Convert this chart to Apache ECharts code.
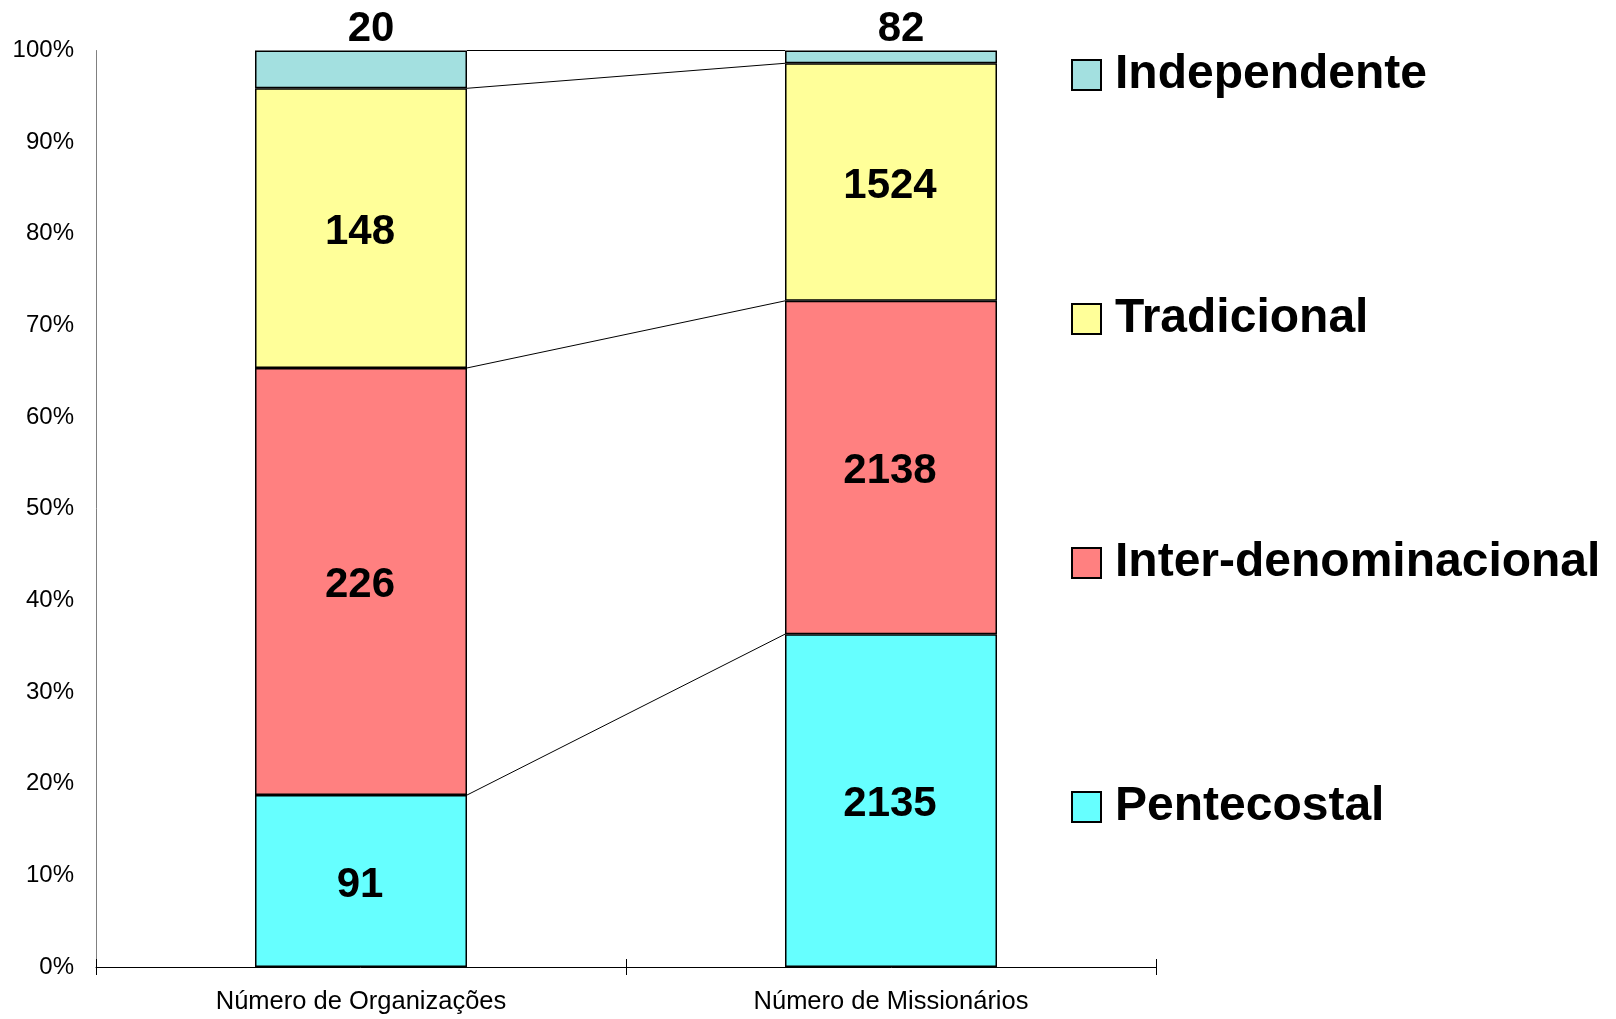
<!DOCTYPE html>
<html>
<head>
<meta charset="utf-8">
<script src="https://cdn.jsdelivr.net/npm/echarts@6/dist/echarts.min.js"></script>
<style>
  html, body { margin: 0; padding: 0; background: #fff; }
  #chart { width: 1616px; height: 1019px; }
</style>
</head>
<body>
<div id="chart"></div>
<script>
// dados
const categories = ['Número de Organizações', 'Número de Missionários']
const seriesNames = ['Pentecostal', 'Inter-denominacional', 'Tradicional', 'Independente']
const pentecostal = [91, 2135]
const interDenominacional = [226, 2138]
const tradicional = [148, 1524]
const independente = [20, 82]
const yTicks = [0, 10, 20, 30, 40, 50, 60, 70, 80, 90, 100]

const colors = ['#66FFFF', '#FF8080', '#FFFF99', '#A3E0E0']
const counts = [pentecostal, interDenominacional, tradicional, independente]
const totals = categories.map((_, i) => counts.reduce((s, arr) => s + arr[i], 0))
const percents = counts.map(arr => arr.map((v, i) => (v / totals[i]) * 100))

// topo acumulado de cada série, para as linhas de ligação
const boundaries = counts.map((_, k) =>
  categories.map((_, i) => percents.slice(0, k + 1).reduce((s, arr) => s + arr[i], 0))
)

const font = 'Liberation Sans, Arial, sans-serif'
const chart = echarts.init(document.getElementById('chart'))

const barSeries = seriesNames.map((name, k) => ({
  name,
  type: 'bar',
  stack: 'total',
  barWidth: '40%',
  data: percents[k],
  itemStyle: { color: colors[k], borderColor: '#000', borderWidth: 1.5 },
  label: {
    show: true,
    position: k === 3 ? 'top' : 'inside',
    distance: 3,
    offset: k === 3 ? [10, 3] : [-1, 4],
    color: '#000',
    fontFamily: font,
    fontWeight: 'bold',
    fontSize: 42,
    formatter: p => counts[k][p.dataIndex],
  },
  emphasis: { disabled: true },
  z: 3,
}))

const option = {
  animation: false,
  grid: { left: 96, right: 460, top: 50.5, bottom: 52 },
  legend: {
    orient: 'vertical',
    left: 1066,
    top: 45,
    itemWidth: 29,
    itemHeight: 30,
    itemGap: 194,
    icon: 'rect',
    data: seriesNames.slice().reverse(),
    textStyle: {
      color: '#000',
      fontFamily: font,
      fontWeight: 'bold',
      fontSize: 48,
      lineHeight: 50,
      padding: [0, 0, 0, 9],
    },
    selectedMode: false,
  },
  xAxis: [
    {
      type: 'category',
      data: categories,
      axisLine: { lineStyle: { color: '#000', width: 1 } },
      axisTick: { show: true, length: 8, lineStyle: { color: '#000' } },
      axisLabel: { color: '#000', fontFamily: font, fontSize: 25.5, margin: 22 },
    },
    {
      type: 'category',
      data: categories,
      position: 'bottom',
      axisLine: { show: false },
      axisTick: { show: true, inside: true, length: 8, lineStyle: { color: '#000' } },
      axisLabel: { show: false },
    },
  ],
  yAxis: {
    type: 'value',
    min: yTicks[0],
    max: yTicks[yTicks.length - 1],
    interval: yTicks[1] - yTicks[0],
    axisLine: { show: true, lineStyle: { color: '#808080', width: 1 } },
    axisTick: { show: false },
    splitLine: { show: false },
    axisLabel: { color: '#000', fontFamily: font, fontSize: 24, margin: 22, formatter: '{value}%' },
  },
  series: [
    ...barSeries,
    {
      type: 'custom',
      name: 'ligacoes',
      data: boundaries.map(b => [0, b[0], 1, b[1]]),
      encode: { x: [0, 2], y: [1, 3] },
      renderItem: (params, api) => {
        const p0 = api.coord([api.value(0), api.value(1)])
        const p1 = api.coord([api.value(2), api.value(3)])
        const half = api.size([1, 0])[0] * 0.2
        return {
          type: 'line',
          shape: { x1: p0[0] + half, y1: p0[1], x2: p1[0] - half, y2: p1[1] },
          style: { stroke: '#000', lineWidth: 1 },
        }
      },
      silent: true,
      z: 2,
    },
  ],
}

chart.setOption(option)
</script>
</body>
</html>
